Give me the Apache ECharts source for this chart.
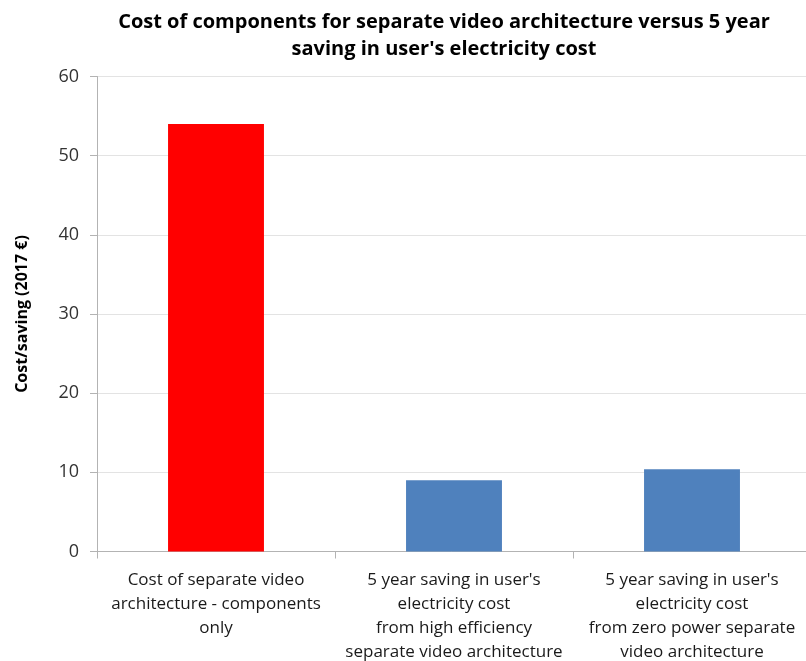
<!DOCTYPE html>
<html>
<head>
<meta charset="utf-8">
<script src="https://cdn.jsdelivr.net/npm/echarts@6/dist/echarts.min.js"></script>
<style>
  html, body { margin: 0; padding: 0; background: #fff; }
  #chart { width: 806px; height: 661px; }
</style>
</head>
<body>
<div id="chart"></div>
<script>
// Categories and values (2017 €)
const categories = [
  "Cost of separate video\narchitecture - components\nonly",
  "5 year saving in user's\nelectricity cost\nfrom high efficiency\nseparate video architecture",
  "5 year saving in user's\nelectricity cost\nfrom zero power separate\nvideo architecture"
];
const values = [54, 9, 10.4];
const barColors = ["#ff0000", "#4f81bd", "#4f81bd"];
const yTicks = { min: 0, max: 60, interval: 10 };

const font = "'Open Sans', sans-serif";
const chart = echarts.init(document.getElementById('chart'));
chart.setOption({
  animation: false,
  title: {
    text: "Cost of components for separate video architecture versus 5 year\nsaving in user's electricity cost",
    left: 439,
    textAlign: 'center',
    top: 4,
    textStyle: { fontFamily: font, fontSize: 20, fontWeight: 'bold', color: '#000', lineHeight: 27 }
  },
  grid: {
    left: 97, width: 714, top: 76.5, height: 475,
    containLabel: false,
    outerBoundsMode: 'none'
  },
  xAxis: {
    type: 'category',
    data: categories,
    axisLine: { lineStyle: { color: '#b3b3b3' } },
    axisTick: { show: true, length: 7, alignWithLabel: false, lineStyle: { color: '#b3b3b3' } },
    axisLabel: { interval: 0, fontFamily: font, fontSize: 17, color: '#1a1a1a', lineHeight: 24, margin: 17 }
  },
  yAxis: {
    type: 'value',
    min: yTicks.min, max: yTicks.max, interval: yTicks.interval,
    name: 'Cost/saving (2017 €)',
    nameLocation: 'middle',
    nameGap: 67,
    nameTextStyle: { fontFamily: font, fontSize: 16, fontWeight: 'bold', color: '#000' },
    axisLine: { show: true, lineStyle: { color: '#b3b3b3' } },
    axisTick: { show: true, length: 7, lineStyle: { color: '#b3b3b3' } },
    axisLabel: { fontFamily: font, fontSize: 18, color: '#333', margin: 18 },
    splitLine: { lineStyle: { color: '#e3e3e3' } }
  },
  series: [{
    type: 'bar',
    data: values.map((v, i) => ({ value: v, itemStyle: { color: barColors[i] } })),
    barWidth: '40.3%'
  }]
});
</script>
</body>
</html>
